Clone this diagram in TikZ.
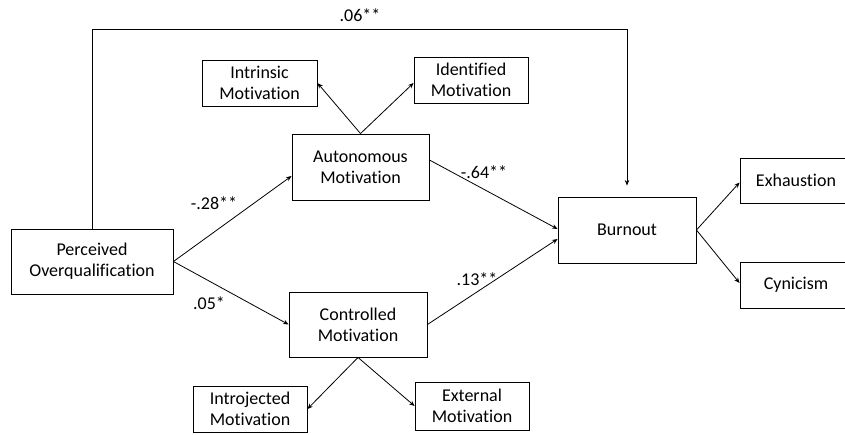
\documentclass[tikz,border=0pt]{standalone}
\usepackage{fontspec}
\setmainfont[Ligatures=NoCommon]{Carlito}
\usetikzlibrary{arrows.meta,calc}
\begin{document}
\begin{tikzpicture}[x=1pt,y=-1pt,
  box/.style={draw=black,line width=0.9pt,inner sep=0pt,align=center,
    font=\fontsize{18}{21}\selectfont},
  lbl/.style={inner sep=0pt,font=\fontsize{18}{21}\selectfont},
  arr/.style={draw=black,line width=0.8pt,-{Stealth[length=5.5pt,width=4.5pt]}}]
\useasboundingbox (0,0) rectangle (845,434);
% nodes
\node[box,minimum width=162pt,minimum height=65pt] (po) at (92,261.5) {Perceived\\Overqualification};
\node[box,minimum width=115pt,minimum height=46pt] (intr) at (259.5,83) {Intrinsic\\Motivation};
\node[box,minimum width=114pt,minimum height=46pt] (iden) at (471,80) {Identified\\Motivation};
\node[box,minimum width=137pt,minimum height=66pt] (auto) at (360.5,167) {Autonomous\\Motivation};
\node[box,minimum width=138pt,minimum height=65pt] (ctrl) at (358,324.5) {Controlled\\Motivation};
\node[box,minimum width=114pt,minimum height=46pt] (intj) at (250,409) {Introjected\\Motivation};
\node[box,minimum width=114pt,minimum height=48pt] (ext) at (472,406) {External\\Motivation};
\node[box,minimum width=138pt,minimum height=66pt] (burn) at (627,230) {Burnout};
\node[box,minimum width=112pt,minimum height=45pt] (exh) at (796,180.5) {Exhaustion};
\node[box,minimum width=112pt,minimum height=46pt] (cyn) at (796,285) {Cynicism};
% labels
\node[lbl] (l06) at (360,15) {.06**};
\node[lbl] (l28) at (214,203) {-.28**};
\node[lbl] (l05) at (209,303) {.05*};
\node[lbl] (l64) at (484,172) {-.64**};
\node[lbl] (l13) at (477,279) {.13**};
% connectors
\coordinate (topc) at (92,29);
\draw[arr,shorten >=11pt] (po.north) -- (topc) -| (burn.north);
\draw[arr] (auto.north) -- (intr.east);
\draw[arr] (auto.north) -- ($(iden.west)+(0,3)$);
\draw[arr] (ctrl.south) -- (intj.east);
\draw[arr] (ctrl.south) -- (ext.west);
\draw[arr] (po.east) -- ($(auto.west)+(0,9)$);
\draw[arr] (po.east) -- (ctrl.west);
\draw[arr] ($(auto.east)+(0,-7)$) -- ($(burn.west)+(0,-1)$);
\draw[arr] (ctrl.east) -- ($(burn.west)+(0,9)$);
\draw[arr] (burn.east) -- ($(exh.west)+(0,2)$);
\draw[arr] (burn.east) -- ($(cyn.west)+(0,-2)$);
\end{tikzpicture}
\end{document}
